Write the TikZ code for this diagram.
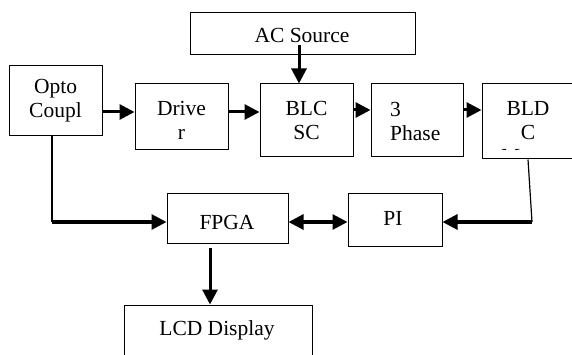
\documentclass[tikz,border=0pt]{standalone}
\usepackage{fontspec}
\setmainfont{Liberation Serif}
\usetikzlibrary{arrows.meta}
\tikzset{
  blk/.style={draw, line width=1pt, inner sep=0pt},
  txt/.style={align=center, inner sep=0pt},
  flow/.style={line width=3pt, ->},
  link/.style={line width=1.2pt}
}
\begin{document}
\begin{tikzpicture}[x=1pt, y=-1pt, >={Triangle[length=15pt,width=15pt]},
  font=\fontsize{21.5}{24}\selectfont]
\useasboundingbox (0,0) rectangle (572,355);
% blocks
\node[blk, minimum width=225, minimum height=42](ac) at (302.5,34){};
\node[blk, minimum width=93, minimum height=70](opto) at (55.5,101){};
\node[blk, minimum width=93, minimum height=66](drv) at (181.5,117){};
\node[blk, minimum width=93, minimum height=73](blcsc) at (306.5,120.5){};
\node[blk, minimum width=92, minimum height=73](phase) at (417,120.5){};
\node[blk, minimum width=98, minimum height=75](bldc) at (531,121.5){};
\node[blk, minimum width=121, minimum height=49](fpga) at (227.5,218.5){};
\node[blk, minimum width=94, minimum height=52](pi) at (395,220){};
\node[blk, minimum width=188, minimum height=75](lcd) at (218,342.5){};
% texts
\node[txt] at (302,35){AC Source};
\node[txt] at (55.5,101){Opto\\Coupl};
\node[txt] at (181.5,120){Drive\\r};
\node[txt] at (306.5,120){BLC\\SC};
\node[txt, anchor=west, align=left] at (390,121){3\\Phase};
\begin{scope}
\clip (483,85) rectangle (579,149.5);
\node[txt] at (528,133){BLD\\C\\Motor};
\end{scope}
\node[txt] at (227,222){FPGA};
\node[txt] at (393,218){PI};
\node[txt] at (217,330){LCD Display};
% connectors
\draw[flow]([yshift=5pt]drv.west -| opto.east)--([yshift=5pt]drv.west);
\draw[flow]([yshift=5pt]drv.east)--([yshift=5pt]drv.east -| blcsc.west);
\draw[flow]([yshift=10.5pt]blcsc.east)--([yshift=10.5pt]phase.west);
\draw[flow]([yshift=10.5pt]phase.east)--([yshift=10.5pt]phase.east -| bldc.west);
\coordinate (acin) at (299,45);
\draw[flow](acin)--(acin |- blcsc.north);
\coordinate (c1) at (52,222);
\draw[link](c1 |- opto.south)--(c1);
\draw[flow](c1)--(c1 -| fpga.west);
\coordinate (c2) at (532,222);
\draw[link]([xshift=-3pt]bldc.south)--(c2);
\draw[flow](c2)--(c2 -| pi.east);
\draw[flow, <->](c1 -| fpga.east)--(c1 -| pi.west);
\coordinate (c3) at (210,248);
\draw[flow](c3)--(c3 |- lcd.north);
\end{tikzpicture}
\end{document}
